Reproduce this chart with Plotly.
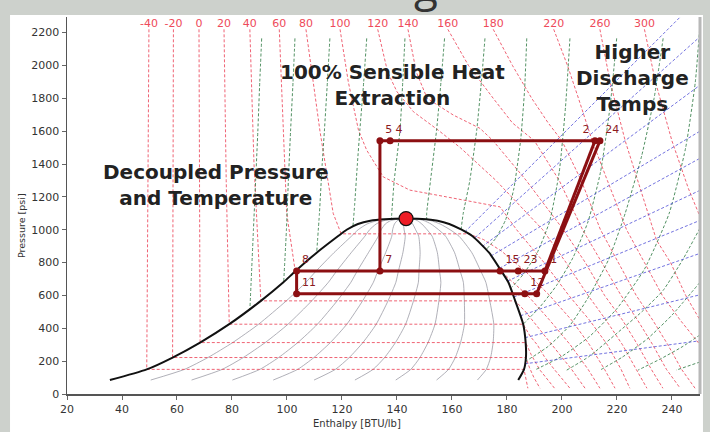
import plotly.graph_objects as go

# ---------------- data ----------------
# saturation dome: common pressure levels, liquid and vapour enthalpies
DOME_P = [85, 150, 222, 313, 425, 567, 680, 747, 860, 960, 1000, 1035, 1055, 1064]
DOME_HL = [35.6, 49.0, 58.4, 68.4, 79.0, 90.5, 98.7, 103.0, 110.8, 118.5, 121.7, 125.8, 130.3, 135.5]
DOME_HV = [184.1, 186.2, 186.9, 186.8, 185.9, 183.0, 180.5, 178.0, 173.5, 167.5, 163.5, 159.0, 154.8, 150.8]
CRIT_H = 143.3
CRIT_P = 1068
QUALITIES = [0.1, 0.2, 0.3, 0.4, 0.5, 0.6, 0.7, 0.8, 0.9]

# isotherms (deg F)
ISOTHERM_TEMPS = [-40, -20, 0, 20, 40, 60, 80, 100, 120, 140, 160, 180, 220, 260, 300]
ISOTHERM_H = [
    [49.8, 49.4, 49.0, 186.2, 186.9, 187.6],
    [58.7, 58.5, 58.4, 186.9, 188.2, 189.8, 192.0],
    [68.0, 68.2, 68.4, 186.8, 188.8, 191.8, 197.3],
    [77.1, 77.9, 79.0, 185.9, 188.5, 191.0, 193.5, 197.2, 202.9],
    [86.5, 88.0, 90.5, 183.0, 186.8, 191.5, 196.2, 203.5, 208.4],
    [97.2, 99.9, 103.0, 178.0, 181.5, 187.5, 195.5, 203.0, 209.5, 213.8],
    [106.9, 112.0, 116.8, 119.7, 166.0, 171.5, 178.0, 186.5, 195.5, 203.5, 210.0, 215.5, 219.3],
    [119.3, 122.3, 126.0, 129.0, 135.0, 144.7, 158.0, 177.5, 183.5, 193.5, 202.5, 210.0, 216.5, 221.5, 224.7],
    [133.0, 136.6, 140.0, 146.0, 155.0, 163.0, 176.0, 193.0, 201.5, 209.5, 216.0, 222.0, 227.0, 230.9],
    [144.0, 147.0, 151.0, 160.5, 170.2, 175.0, 187.0, 200.5, 208.5, 215.5, 222.0, 227.5, 232.5, 236.7],
    [158.5, 166.0, 175.0, 182.0, 190.0, 199.0, 207.5, 214.5, 221.5, 227.5, 233.0, 238.0, 243.0],
    [175.0, 182.0, 189.0, 195.0, 200.0, 207.0, 214.0, 220.5, 227.0, 233.0, 238.5, 243.5, 248.4],
    [197.0, 202.0, 206.0, 211.0, 216.5, 223.5, 230.0, 236.5, 243.0, 250.2],
    [213.8, 217.5, 223.0, 228.5, 234.4, 239.5, 245.0, 250.2],
    [230.0, 234.0, 240.0, 246.0, 250.2],
]
ISOTHERM_P = [
    [2220, 1200, 150, 150, 95, 35],
    [2220, 1200, 222, 222, 160, 100, 35],
    [2220, 1200, 313, 313, 240, 150, 35],
    [2220, 1300, 425, 425, 350, 300, 230, 150, 35],
    [2220, 1400, 567, 567, 500, 400, 300, 150, 35],
    [2220, 1100, 747, 747, 690, 600, 450, 300, 150, 35],
    [2220, 1600, 1100, 975, 975, 940, 870, 750, 600, 450, 300, 150, 35],
    [2220, 1900, 1606, 1484, 1322, 1241, 1200, 1139, 1000, 800, 600, 450, 300, 150, 35],
    [2220, 1960, 1840, 1718, 1606, 1500, 1300, 1000, 800, 600, 450, 300, 150, 35],
    [2220, 1961, 1799, 1698, 1617, 1541, 1300, 1000, 800, 600, 450, 300, 150, 35],
    [2220, 2000, 1800, 1650, 1541, 1300, 1000, 800, 600, 450, 300, 150, 35],
    [2220, 2000, 1800, 1650, 1541, 1300, 1000, 800, 600, 450, 300, 150, 35],
    [2220, 2000, 1800, 1541, 1300, 1000, 800, 600, 450, 300],
    [2220, 1900, 1541, 1250, 936, 800, 600, 450],
    [2220, 1900, 1541, 1250, 1080],
]

# isentropes (green)
ISENTROPE_H = [
    [90.8, 90.1, 89.4, 88.6, 87.8, 86.5],
    [102.9, 102.2, 101.3, 100.5, 99.8, 98.8],
    [115.6, 114.7, 113.6, 112.8, 111.8, 110.8],
    [129.0, 127.9, 126.5, 125.6, 124.6, 124.0],
    [142.9, 142.1, 141.1, 139.0, 138.1, 138.0],
    [157.3, 156.0, 154.4, 152.2, 150.8, 150.8],
    [172.0, 170.7, 169.0, 166.5, 164.1, 163.3],
    [187.2, 186.4, 185.0, 182.5, 179.5, 176.0, 172.5],
    [202.9, 201.3, 199.0, 195.5, 191.0, 186.0, 181.8],
    [219.9, 217.5, 214.0, 209.5, 204.0, 198.0, 192.0, 185.9],
    [236.8, 233.5, 229.0, 223.0, 217.0, 210.0, 203.0, 195.0, 186.9],
    [250.2, 248.5, 245.0, 239.0, 230.0, 220.0, 210.0, 200.0, 190.0],
    [250.2, 244.0, 236.8, 229.0, 220.0, 210.0, 201.7],
    [250.2, 240.0, 231.0, 222.0, 213.8],
    [250.2, 244.0, 236.0, 227.6],
    [250.2, 241.5],
]
ISENTROPE_P = [
    [2165, 1900, 1600, 1300, 1000, 510],
    [2165, 1900, 1600, 1300, 1000, 680],
    [2165, 1900, 1600, 1400, 1100, 860],
    [2165, 1900, 1606, 1400, 1150, 1022],
    [2165, 1900, 1606, 1300, 1100, 1067],
    [2165, 1900, 1606, 1300, 1100, 1064],
    [2165, 1900, 1606, 1300, 1100, 1000],
    [2165, 1850, 1550, 1250, 1060, 950, 880],
    [2165, 1750, 1350, 1050, 860, 730, 650],
    [2165, 1750, 1350, 1050, 830, 660, 530, 425],
    [2165, 1800, 1450, 1100, 820, 600, 420, 290, 200],
    [2250, 1900, 1500, 1100, 760, 520, 350, 230, 145],
    [1010, 820, 631, 500, 370, 230, 145],
    [680, 480, 335, 225, 145],
    [360, 290, 215, 145],
    [195, 145],
]

# isochores (blue)
ISOCHORE_H = [[186.5, 250.2], [186.6, 250.2], [184.9, 250.2], [182.5, 250.2], [180.2, 250.2],
              [177.3, 250.2], [174.2, 250.2], [171.0, 250.2], [168.4, 250.2], [164.7, 243.0]]
ISOCHORE_P = [[184, 324], [343, 604], [476, 856], [590, 1057], [687, 1240],
              [765, 1435], [840, 1600], [898, 1880], [952, 2175], [987, 2295]]

# refrigeration cycle state points
CYCLE_LABELS = ["5", "4", "2", "24", "7", "8", "11", "15", "23", "1", "12", ""]
CYCLE_H = [133.8, 137.5, 212.0, 213.8, 133.8, 103.5, 103.5, 177.5, 184.1, 193.8, 186.5, 190.8]
CYCLE_P = [1541, 1541, 1541, 1541, 749, 749, 611, 749, 749, 749, 611, 611]
CYCLE_LABEL_POS = ["top right", "top right", "top left", "top right", "top right", "top right",
                   "top right", "top right", "top right", "top right", "top right", "top right"]

# cycle line segments
CYCLE_SEG_H = [
    [213.8, 137.5, 133.8, 133.8],
    [103.5, 133.8, 177.5, 184.1, 193.8],
    [103.5, 103.5, 186.5, 190.8],
    [193.8, 212.0],
    [190.8, 213.8],
]
CYCLE_SEG_P = [
    [1541, 1541, 1541, 749],
    [749, 749, 749, 749, 749],
    [749, 611, 611, 611],
    [749, 1541],
    [611, 1541],
]

X_TICKS = [20, 40, 60, 80, 100, 120, 140, 160, 180, 200, 220, 240]
Y_TICKS = [0, 200, 400, 600, 800, 1000, 1200, 1400, 1600, 1800, 2000, 2200]
LABEL_P = 2252

# ---------------- figure ----------------
fig = go.Figure()

RED = "rgba(236,72,92,0.85)"
GREEN = "rgba(50,125,70,0.85)"
BLUE = "rgba(80,80,215,0.8)"
GRAY = "rgba(150,150,160,0.75)"
CYC = "#8c0f12"

# quality lines
for q in QUALITIES:
    xs = [hl + q * (hv - hl) for hl, hv in zip(DOME_HL, DOME_HV)] + [CRIT_H]
    ys = DOME_P + [CRIT_P]
    fig.add_trace(go.Scatter(x=xs, y=ys, mode="lines", line=dict(color=GRAY, width=1, shape="spline", smoothing=0.6),
                             hoverinfo="skip"))

# isotherms
for hs, ps in zip(ISOTHERM_H, ISOTHERM_P):
    fig.add_trace(go.Scatter(x=hs, y=ps, mode="lines", line=dict(color=RED, width=1, dash="3px,2px"),
                             hoverinfo="skip"))

# isentropes
for hs, ps in zip(ISENTROPE_H, ISENTROPE_P):
    fig.add_trace(go.Scatter(x=hs, y=ps, mode="lines",
                             line=dict(color=GREEN, width=1, dash="3px,2px", shape="spline", smoothing=0.5),
                             hoverinfo="skip"))

# isochores
for hs, ps in zip(ISOCHORE_H, ISOCHORE_P):
    fig.add_trace(go.Scatter(x=hs, y=ps, mode="lines", line=dict(color=BLUE, width=1, dash="3px,2px"),
                             hoverinfo="skip"))

# saturation dome
dome_x = DOME_HL + [CRIT_H] + DOME_HV[::-1]
dome_y = DOME_P + [CRIT_P] + DOME_P[::-1]
fig.add_trace(go.Scatter(x=dome_x, y=dome_y, mode="lines",
                         line=dict(color="#111111", width=2, shape="spline", smoothing=0.6), hoverinfo="skip"))

# isotherm labels
fig.add_trace(go.Scatter(x=[hs[0] for hs in ISOTHERM_H], y=[LABEL_P] * len(ISOTHERM_TEMPS),
                         mode="text", text=[str(t) for t in ISOTHERM_TEMPS],
                         textfont=dict(color="#ee4a5a", size=11, family="DejaVu Sans"), hoverinfo="skip"))

# cycle
for hs, ps in zip(CYCLE_SEG_H, CYCLE_SEG_P):
    fig.add_trace(go.Scatter(x=hs, y=ps, mode="lines", line=dict(color=CYC, width=3), hoverinfo="skip"))
fig.add_trace(go.Scatter(x=CYCLE_H, y=CYCLE_P, mode="markers+text", text=CYCLE_LABELS,
                         textposition=CYCLE_LABEL_POS,
                         textfont=dict(color="#8c1a1f", size=11, family="DejaVu Sans"),
                         marker=dict(color=CYC, size=7), hoverinfo="skip"))

# critical point
fig.add_trace(go.Scatter(x=[CRIT_H], y=[CRIT_P], mode="markers",
                         marker=dict(color="#ee1c25", size=14, line=dict(color="#111", width=1.2)),
                         hoverinfo="skip"))

axis_common = dict(ticks="outside", ticklen=4, tickcolor="#666", showline=True, linecolor="#555", linewidth=1.5,
                   showgrid=False, zeroline=False, tickfont=dict(size=11, color="#333", family="DejaVu Sans"))

fig.update_layout(
    width=710, height=432,
    margin=dict(l=67, r=10, t=17, b=38),
    paper_bgcolor="#cdd1cc",
    plot_bgcolor="#f7f8fa",
    showlegend=False,
    xaxis=dict(range=[20, 250.2], tickvals=X_TICKS, **axis_common),
    yaxis=dict(range=[0, 2295], tickvals=Y_TICKS, **axis_common),
    shapes=[
        dict(type="rect", xref="paper", yref="paper", x0=-0.09, x1=1.0047, y0=-0.101, y1=1.0053,
             fillcolor="white", line=dict(width=0), layer="below"),
        dict(type="line", xref="paper", yref="paper", x0=1.0, x1=1.0, y0=0, y1=1,
             line=dict(color="#b8b8b8", width=3), layer="above"),
    ],
)

bold_font = dict(family="DejaVu Sans", size=20, color="#222222")
fig.add_annotation(x=138.5, y=1883, text="<b>100% Sensible Heat<br>Extraction</b>", showarrow=False,
                   font=bold_font, align="center", xanchor="center", yanchor="middle")
fig.add_annotation(x=225.5, y=1922, text="<b>Higher<br>Discharge<br>Temps</b>", showarrow=False,
                   font=bold_font, align="center", xanchor="center", yanchor="middle")
fig.add_annotation(x=74.2, y=1274, text="<b>Decoupled Pressure<br>and Temperature</b>", showarrow=False,
                   font=bold_font, align="center", xanchor="center", yanchor="middle")

fig.add_annotation(xref="paper", yref="paper", x=(357 - 67) / 633, y=(394 - 424) / 377,
                   text="Enthalpy [BTU/lb]", showarrow=False, xanchor="center", yanchor="middle",
                   font=dict(size=10, color="#333", family="DejaVu Sans"))
fig.add_annotation(xref="paper", yref="paper", x=(22 - 67) / 633, y=(394 - 226) / 377,
                   text="Pressure [psi]", showarrow=False, textangle=-90, xanchor="center", yanchor="middle",
                   font=dict(size=9.5, color="#333", family="DejaVu Sans"))
# clipped top of the slide title visible above the chart panel
fig.add_annotation(xref="paper", yref="paper", x=(426 - 67) / 633, y=(394 - 16) / 377,
                   text="g", showarrow=False, xanchor="center", yanchor="bottom",
                   font=dict(size=44, color="#333", family="Open Sans"))

fig.write_html("out.html", config={"displayModeBar": False, "staticPlot": True})

# remove default page margin so the figure sits at the window origin
with open("out.html", "r", encoding="utf-8") as f:
    html = f.read()
html = html.replace("<head>", "<head><style>html,body{margin:0;padding:0;overflow:hidden;}</style>", 1)
with open("out.html", "w", encoding="utf-8") as f:
    f.write(html)
